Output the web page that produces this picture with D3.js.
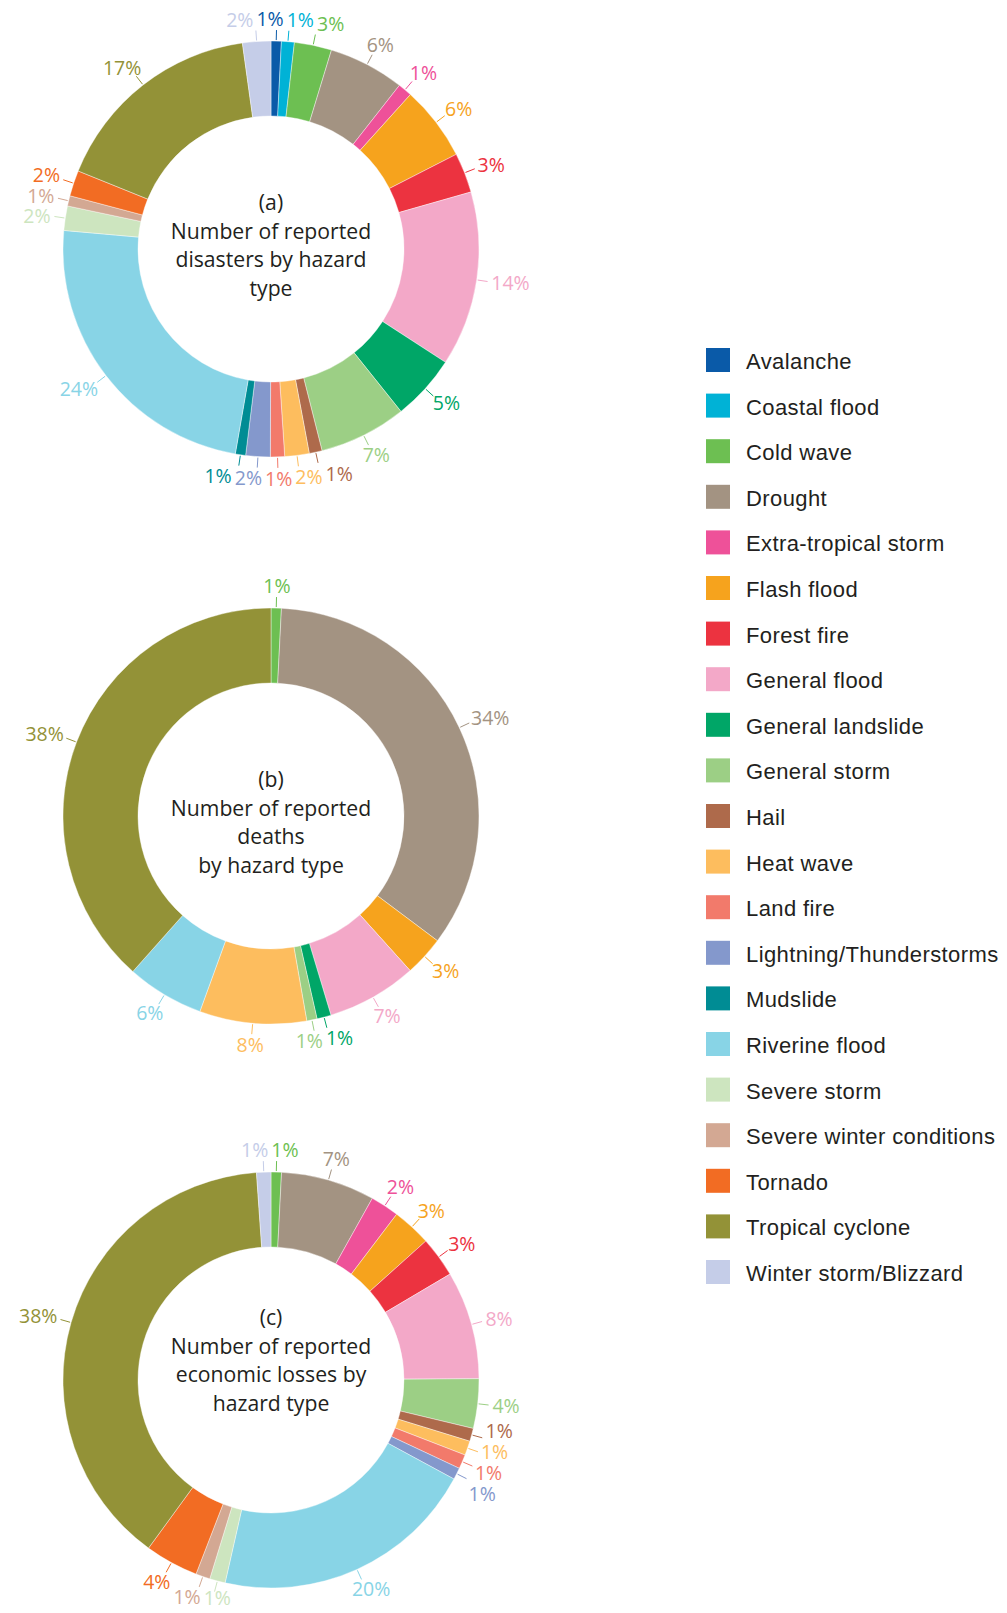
<!DOCTYPE html>
<html>
<head>
<meta charset="utf-8">
<script src="https://cdn.jsdelivr.net/npm/d3@7"></script>
<style>
  html, body { margin: 0; padding: 0; background: #fff; }
  svg { display: block; }
</style>
</head>
<body>
<svg id="chart" width="1007" height="1613"></svg>
<script>
// ---------------- DATA ----------------
const hazards = [
  "Avalanche", "Coastal flood", "Cold wave", "Drought", "Extra-tropical storm",
  "Flash flood", "Forest fire", "General flood", "General landslide", "General storm",
  "Hail", "Heat wave", "Land fire", "Lightning/Thunderstorms", "Mudslide",
  "Riverine flood", "Severe storm", "Severe winter conditions", "Tornado",
  "Tropical cyclone", "Winter storm/Blizzard"
];
const hazardColors = [
  "#0a5aa8", "#00b2d6", "#6dbf52", "#a39382", "#ee5199",
  "#f6a31d", "#ec3340", "#f3a8c8", "#00a667", "#9ccf85",
  "#ae6a4b", "#fdbd5e", "#f27a6b", "#8498cc", "#008c94",
  "#88d4e6", "#cde5bf", "#d3a893", "#f26c23",
  "#939237", "#c5cde8"
];
// shares (%) in legend order
const disastersPct = [0.8, 1.0, 2.9, 5.9, 1.1, 5.8, 3.1, 13.6, 5.1, 6.8, 1.0, 1.9, 1.1, 1.9, 0.8, 23.7, 1.9, 0.8, 2.0, 16.7, 2.2];
const deathsPct    = [0, 0, 0.8, 34.4, 0, 3.1, 0, 7.0, 1.1, 0.8, 0, 8.3, 0, 0, 0, 6.0, 0, 0, 0, 38.4, 0];
const lossesPct    = [0, 0, 0.8, 7.2, 2.2, 3.0, 3.1, 8.3, 0, 3.8, 1.0, 1.1, 1.1, 0.9, 0, 20.4, 1.2, 1.1, 4.1, 38.4, 1.1];

const titleA = ["(a)", "Number of reported", "disasters by hazard", "type"];
const titleB = ["(b)", "Number of reported", "deaths", "by hazard type"];
const titleC = ["(c)", "Number of reported", "economic losses by", "hazard type"];

// ---------------- LAYOUT ----------------
const W = 1007, H = 1613;
const cx = 271, outerR = 208, innerR = 133;
const charts = [
  { values: disastersPct, cy: 249,  title: titleA, firstBaseline: -39 },
  { values: deathsPct,    cy: 816,  title: titleB, firstBaseline: -29 },
  { values: lossesPct,    cy: 1380, title: titleC, firstBaseline: -55 }
];
const textColor = "#231f20";
const labelFont = "'Open Sans', 'Noto Sans', sans-serif";
const labelSize = 19.5, capH = 13.9;

const svg = d3.select("#chart");
svg.append("rect").attr("width", W).attr("height", H).attr("fill", "#fff");

const color = d3.scaleOrdinal().domain(hazards).range(hazardColors);
const pie = d3.pie().sort(null).value(d => d.v);
const arc = d3.arc().innerRadius(innerR).outerRadius(outerR);

charts.forEach(ch => {
  const data = hazards.map((h, i) => ({ name: h, v: ch.values[i] }));
  const arcs = pie(data).filter(d => d.data.v > 0);
  const g = svg.append("g").attr("transform", `translate(${cx},${ch.cy})`);

  g.selectAll("path.slice").data(arcs).join("path")
    .attr("class", "slice")
    .attr("d", arc)
    .attr("fill", d => color(d.data.name))
    .attr("stroke", "#fff").attr("stroke-width", 0.4);

  // leader lines
  const r1 = outerR + 1, r2 = outerR + 11, rText = outerR + 15;
  g.selectAll("line.leader").data(arcs).join("line")
    .attr("class", "leader")
    .each(function(d) {
      const a = (d.startAngle + d.endAngle) / 2;
      d3.select(this)
        .attr("x1", r1 * Math.sin(a)).attr("y1", -r1 * Math.cos(a))
        .attr("x2", r2 * Math.sin(a)).attr("y2", -r2 * Math.cos(a));
    })
    .attr("stroke", d => color(d.data.name)).attr("stroke-width", 1);

  // labels
  const texts = g.selectAll("text.pct").data(arcs).join("text")
    .attr("class", "pct")
    .attr("font-family", labelFont).attr("font-size", labelSize)
    .attr("fill", d => color(d.data.name))
    .attr("text-anchor", "middle")
    .text(d => Math.round(d.data.v) + "%");

  const L = [];
  texts.each(function(d) {
    const w = this.getComputedTextLength();
    const a = (d.startAngle + d.endAngle) / 2;
    const s = Math.sin(a), c = -Math.cos(a);
    L.push({ node: this, w, h: capH,
      x: rText * s + s * w / 2,
      y: rText * c + c * capH / 2 });
  });
  const maxCenterY = H - ch.cy - 8 - capH / 2;   // keep labels inside the page
  const padX = 3, padY = 7;
  for (let it = 0; it < 400; it++) {
    let moved = false;
    for (let i = 0; i < L.length; i++) for (let j = i + 1; j < L.length; j++) {
      const A = L[i], B = L[j];
      const ox = (A.w + B.w) / 2 + padX - Math.abs(A.x - B.x);
      const oy = (A.h + B.h) / 2 + padY - Math.abs(A.y - B.y);
      if (ox > 0.01 && oy > 0.01) {
        if (ox < oy) { const sg = A.x < B.x ? -1 : 1; A.x += sg * ox / 2; B.x -= sg * ox / 2; }
        else { const sg = A.y < B.y ? -1 : 1; A.y += sg * oy / 2; B.y -= sg * oy / 2; }
        moved = true;
      }
    }
    L.forEach(l => { if (l.y > maxCenterY) l.y = maxCenterY; });
    if (!moved) break;
  }
  L.forEach(l => d3.select(l.node).attr("x", l.x).attr("y", l.y + capH / 2));

  // center title
  const lineH = 28.7;
  g.append("text")
    .attr("font-family", labelFont).attr("font-size", 21.2)
    .attr("fill", textColor).attr("text-anchor", "middle")
    .selectAll("tspan").data(ch.title).join("tspan")
    .attr("x", 0)
    .attr("y", (d, i) => ch.firstBaseline + i * lineH)
    .text(d => d);
});

// ---------------- LEGEND ----------------
const legend = svg.append("g").attr("transform", "translate(706,348)");
const step = 45.6;
const items = legend.selectAll("g").data(hazards).join("g")
  .attr("transform", (d, i) => `translate(0,${i * step})`);
items.append("rect").attr("width", 24).attr("height", 24).attr("fill", d => color(d));
items.append("text")
  .attr("x", 40).attr("y", 21)
  .attr("font-family", "'Liberation Sans', Arial, sans-serif")
  .attr("font-size", 22).attr("letter-spacing", 0.4)
  .attr("fill", textColor)
  .text(d => d);
</script>
</body>
</html>
